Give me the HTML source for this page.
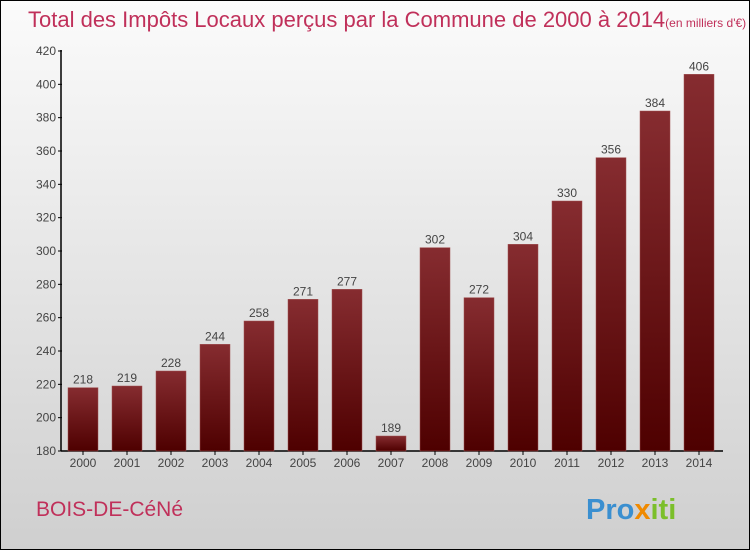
<!DOCTYPE html>
<html><head><meta charset="utf-8"><style>
body{margin:0}
#wrap{position:relative;width:748px;height:548px;border:1px solid #000;background:linear-gradient(#fbfbfb,#cfcfcf);font-family:"Liberation Sans",sans-serif;overflow:hidden}
</style></head><body>
<div id="wrap">
<svg width="748" height="548" id="svg">
<defs><linearGradient id="bg" x1="0" y1="0" x2="0" y2="1"><stop offset="0" stop-color="#862c30"/><stop offset="1" stop-color="#4e0000"/></linearGradient></defs>
<text x="27" y="26" font-size="22" fill="#c0305a">Total des Impôts Locaux perçus par la Commune de 2000 à 2014<tspan font-size="12">(en milliers d'€)</tspan></text>
<text x="35" y="515" font-size="21" fill="#c0305a">BOIS-DE-CéNé</text>
<text x="585" y="518" font-size="29" font-weight="bold"><tspan fill="#3a8fd0">Pro</tspan><tspan fill="#f08a00">x</tspan><tspan fill="#7bbf2a">iti</tspan></text>
<g id="g"></g>
</svg>
</div>
<script>
const years=["2000","2001","2002","2003","2004","2005","2006","2007","2008","2009","2010","2011","2012","2013","2014"];
const values=[218,219,228,244,258,271,277,189,302,272,304,330,356,384,406];
const ticks=[180,200,220,240,260,280,300,320,340,360,380,400,420];
const NS="http://www.w3.org/2000/svg",g=document.getElementById('g');
const y=v=>450-(v-180)*400/240, x=i=>82+i*44;
function mk(t,a){const e=document.createElementNS(NS,t);for(const k in a)e.setAttribute(k,a[k]);g.appendChild(e);return e;}
let ax=mk('line',{x1:60,x2:60,y1:49,y2:450,stroke:'#000','stroke-width':1.5});


let bx=mk('line',{x1:60,x2:722,y1:450,y2:450,stroke:'#000','stroke-width':1.5});


ticks.forEach(t=>{
 const tk=mk('line',{x1:57,x2:61,y1:y(t),y2:y(t),stroke:'#000'});
 
 
 const l=mk('text',{x:55,y:y(t)+4,'text-anchor':'end','font-size':12,fill:'#444'});l.textContent=t;
 
 
});
values.forEach((v,i)=>{
 const r=mk('rect',{x:x(i)-15,y:y(v),width:30,height:450-y(v),fill:'url(#bg)',stroke:'#a05050','stroke-width':0.5});
 
 
 const t=mk('text',{x:x(i),y:y(v)-4,'text-anchor':'middle','font-size':12,fill:'#444'});t.textContent=v;
 
 
 const tk=mk('line',{x1:x(i),x2:x(i),y1:450,y2:454,stroke:'#000'});
 
 
 const l=mk('text',{x:x(i),y:466,'text-anchor':'middle','font-size':12,fill:'#444'});l.textContent=years[i];
 
 
});
</script>
</body></html>
